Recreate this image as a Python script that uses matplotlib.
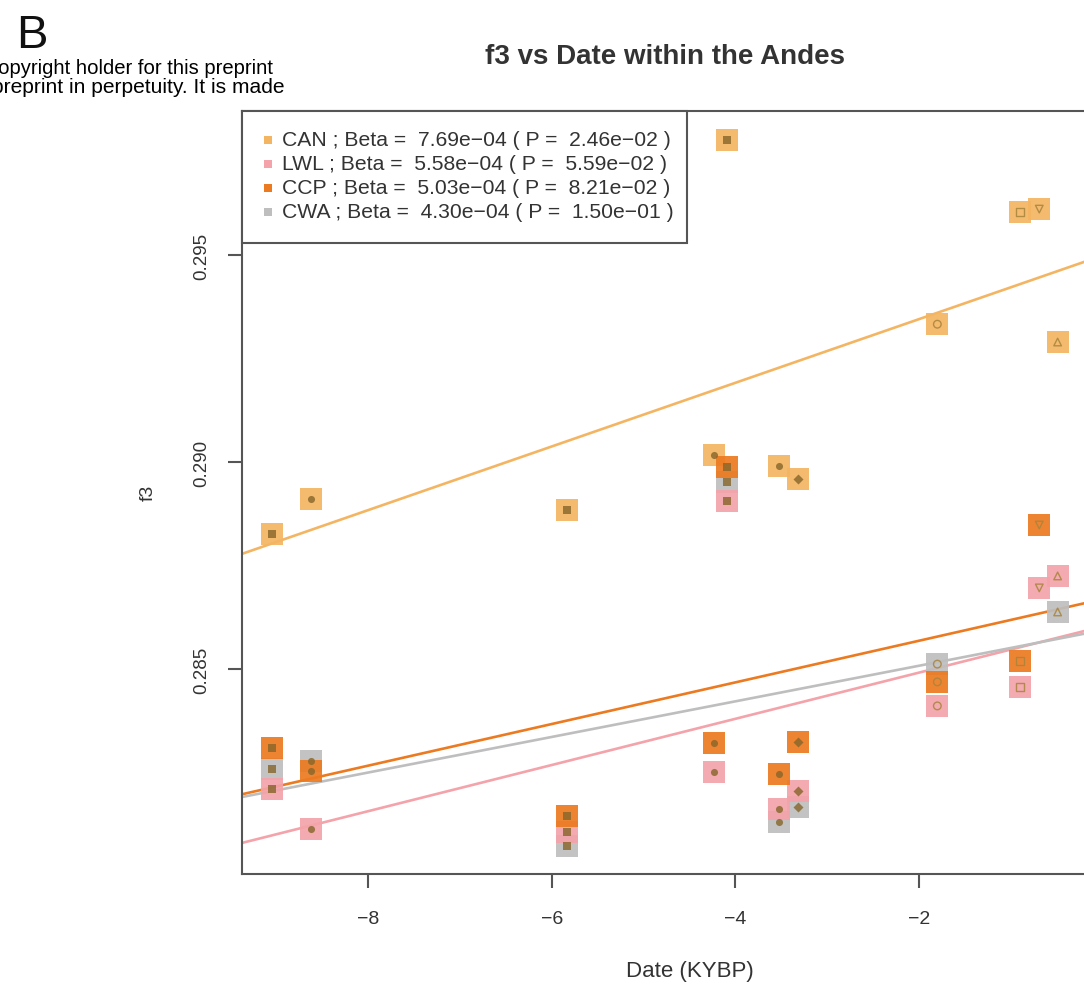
import matplotlib
matplotlib.use("Agg")
import matplotlib.pyplot as plt
import numpy as np
from matplotlib.patches import Rectangle

plt.rcParams['font.family'] = ['Liberation Sans', 'DejaVu Sans']

# ---------------- data ----------------
dates = [-9.04, -8.62, -5.83, -4.23, -4.09, -3.52, -3.32, -1.80, -0.90, -0.69, -0.49]
inner_markers = ['s', 'o', 's', 'o', 's', 'o', 'D', 'o', 's', 'v', '^']
inner_filled = [True, True, True, True, True, True, True, False, False, False, False]

can = [0.28826, 0.28911, 0.28884, 0.29017, 0.29778, 0.28990, 0.28959, 0.29333, 0.29604, 0.29611, 0.29290]
lwl = [0.28210, 0.28114, 0.28106, 0.28251, 0.28906, 0.28162, 0.28205, 0.28411, 0.28457, 0.28696, 0.28725]
ccp = [0.28310, 0.28254, 0.28145, 0.28321, 0.28988, 0.28246, 0.28324, 0.28469, 0.28519, 0.28848, np.nan]
cwa = [0.28258, 0.28278, 0.28072, np.nan, 0.28952, 0.28130, 0.28167, 0.28512, np.nan, np.nan, 0.28638]

populations = ['CAN', 'LWL', 'CCP', 'CWA']
series = {'CAN': can, 'LWL': lwl, 'CCP': ccp, 'CWA': cwa}
betas = [7.69e-4, 5.58e-4, 5.03e-4, 4.30e-4]
pvalues = [2.46e-2, 5.59e-2, 8.21e-2, 1.50e-1]
intercepts = [0.29499, 0.28603, 0.28669, 0.28594]
colors = {'CAN': '#F4B563', 'LWL': '#F3A3A9', 'CCP': '#EC7A20', 'CWA': '#BEBEBE'}
draw_order = ['CWA', 'LWL', 'CAN', 'CCP']

xticks = [-8, -6, -4, -2]
yticks = [0.285, 0.290, 0.295]
xlim = (-9.372, 0.75)
ylim = (0.28005, 0.29848)

# ---------------- figure ----------------
W, H = 1084, 987
fig = plt.figure(figsize=(W / 100, H / 100), dpi=100)
ax_left, ax_right, ax_top, ax_bottom = 242, 1171.5, 112, 875
ax = fig.add_axes([ax_left / W, 1 - ax_bottom / H, (ax_right - ax_left) / W, (ax_bottom - ax_top) / H])
ax.set_xlim(*xlim)
ax.set_ylim(*ylim)

# regression lines
xx = np.array(xlim)
for pop, b, a in zip(populations, betas, intercepts):
    ax.plot(xx, a + b * xx, color=colors[pop], lw=1.9, zorder=2, solid_capstyle='butt')

# points
for pop in draw_order:
    ys = series[pop]
    for d, y, m, f in zip(dates, ys, inner_markers, inner_filled):
        if np.isnan(y):
            continue
        ax.scatter([d], [y], marker='s', s=245, color=colors[pop], alpha=0.92,
                   linewidths=0, zorder=3)
        if f:
            ax.scatter([d], [y], marker=m, s=26, color='#86652A', alpha=0.8,
                       linewidths=0, zorder=4)
        else:
            ax.scatter([d], [y], marker=m, s=30, facecolors='none', edgecolors='#A8843C',
                       alpha=0.85, linewidths=1.0, zorder=4)

# axes styling
for side in ['left', 'bottom', 'top', 'right']:
    ax.spines[side].set_color('#555555')
    ax.spines[side].set_linewidth(1.5)
ax.set_xticks(xticks)
ax.set_xticklabels([f"\u2212{abs(t)}" for t in xticks])
ax.set_yticks(yticks)
ax.set_yticklabels([f"{t:.3f}" for t in yticks], rotation=90, va='center')
ax.tick_params(axis='both', direction='out', length=10, width=1.5, color='#555555',
               labelcolor='#333333')
ax.tick_params(axis='x', pad=16, labelsize=14)
ax.tick_params(axis='y', pad=13, labelsize=13.5)

# legend (manual box in top-left corner)
lg_w = (687 - ax_left) / (ax_right - ax_left)
lg_h = (244 - ax_top) / (ax_bottom - ax_top)
ax.add_patch(Rectangle((0, 1 - lg_h), lg_w, lg_h, transform=ax.transAxes,
                       facecolor='white', edgecolor='#555555', lw=1.5, zorder=6, clip_on=False))
row_px = [141, 165, 189, 213]
for pop, b, p, r in zip(populations, betas, pvalues, row_px):
    yfrac = 1 - (r - ax_top) / (ax_bottom - ax_top)
    ax.scatter([(268 - ax_left) / (ax_right - ax_left)], [yfrac], marker='s', s=34,
               color=colors[pop], linewidths=0, transform=ax.transAxes, zorder=7, clip_on=False)
    label = f"{pop} ; Beta =  {b:.2e} ( P =  {p:.2e} )".replace('-', '\u2212')
    ax.text((282 - ax_left) / (ax_right - ax_left), yfrac, label, transform=ax.transAxes,
            fontsize=15.2, color='#333333', va='center', ha='left', zorder=7)

# titles and labels
fig.text(665 / W, 1 - 57 / H, 'f3 vs Date within the Andes', fontsize=20, fontweight='bold',
         color='#333333', ha='center', va='center')
fig.text(690 / W, 1 - 972 / H, 'Date (KYBP)', fontsize=16, color='#333333', ha='center', va='center')
fig.text(148 / W, 1 - 493 / H, 'f3', fontsize=14, color='#333333', ha='center', va='center', rotation=90)

# panel letter and preprint residue text (cut off at the left edge, as in the source)
fig.text(32 / W, 1 - 36 / H, 'B', fontsize=34, color='#111111', ha='center', va='center')
fig.text(273 / W, 1 - 69 / H, 'copyright holder for this preprint', fontsize=14.6,
         color='black', ha='right', va='center')
fig.text(285 / W, 1 - 88 / H, 'preprint in perpetuity. It is made', fontsize=15.1,
         color='black', ha='right', va='center')

fig.savefig('out.png', dpi=100)
